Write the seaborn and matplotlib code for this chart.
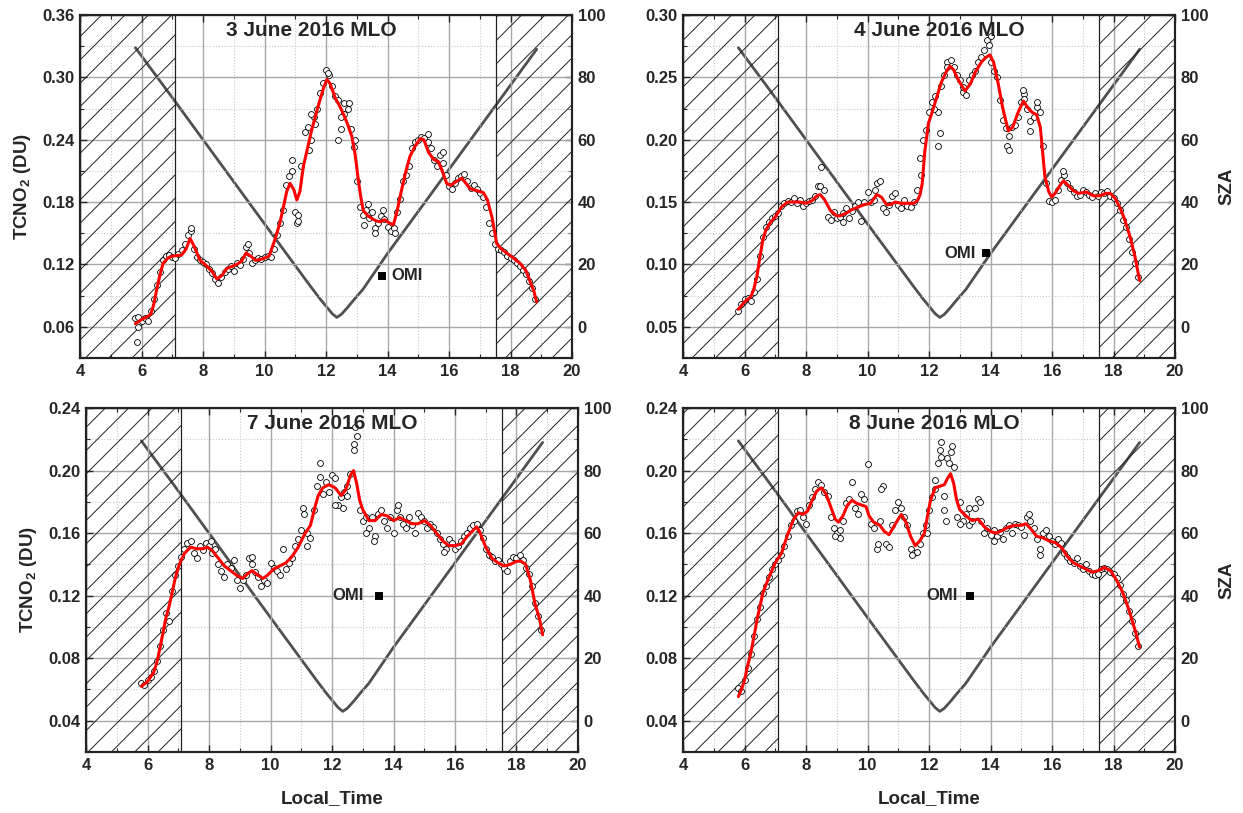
import matplotlib
matplotlib.use('Agg')
import matplotlib.pyplot as plt
import seaborn as sns
from matplotlib.ticker import MultipleLocator, FormatStrFormatter

# observation times (local hour) shared by the four days
obs_hours = [5.8, 5.9, 6.0, 6.1, 6.2, 6.3, 6.4, 6.5, 6.6, 6.7,
             6.8, 6.9, 7.0, 7.1, 7.2, 7.3, 7.4, 7.5, 7.6, 7.7,
             7.8, 7.9, 8.0, 8.1, 8.2, 8.3, 8.4, 8.5, 8.6, 8.7,
             8.8, 8.9, 9.0, 9.1, 9.2, 9.3, 9.4, 9.5, 9.6, 9.7,
             9.8, 9.9, 10.0, 10.1, 10.2, 10.3, 10.4, 10.5, 10.6, 10.7,
             10.8, 10.9, 11.0, 11.1, 11.2, 11.3, 11.4, 11.5, 11.6, 11.7,
             11.8, 11.9, 12.0, 12.1, 12.2, 12.3, 12.4, 12.5, 12.6, 12.7,
             12.8, 12.9, 13.0, 13.1, 13.2, 13.3, 13.4, 13.5, 13.6, 13.7,
             13.8, 13.9, 14.0, 14.1, 14.2, 14.3, 14.4, 14.5, 14.6, 14.7,
             14.8, 14.9, 15.0, 15.1, 15.2, 15.3, 15.4, 15.5, 15.6, 15.7,
             15.8, 15.9, 16.0, 16.1, 16.2, 16.3, 16.4, 16.5, 16.6, 16.7,
             16.8, 16.9, 17.0, 17.1, 17.2, 17.3, 17.4, 17.5, 17.6, 17.7,
             17.8, 17.9, 18.0, 18.1, 18.2, 18.3, 18.4, 18.5, 18.6, 18.7,
             18.8]

# TCNO2 observations (DU)
no2_jun3 = [0.068, 0.069, 0.066, 0.068, 0.066, 0.075, 0.087, 0.100, 0.113, 0.124,
            0.128, 0.129, 0.127, 0.126, 0.130, 0.134, 0.140, 0.148, 0.152, 0.135,
            0.127, 0.124, 0.122, 0.120, 0.116, 0.112, 0.106, 0.102, 0.108, 0.113,
            0.116, 0.118, 0.114, 0.121, 0.119, 0.125, 0.137, 0.131, 0.121, 0.124,
            0.126, 0.125, 0.127, 0.128, 0.127, 0.135, 0.148, 0.160, 0.172, 0.196,
            0.205, 0.210, 0.170, 0.168, 0.215, 0.247, 0.252, 0.240, 0.262, 0.270,
            0.285, 0.295, 0.307, 0.302, 0.292, 0.282, 0.278, 0.250, 0.275, 0.270,
            0.250, 0.233, 0.200, 0.175, 0.168, 0.172, 0.165, 0.170, 0.155, 0.160,
            0.167, 0.164, 0.156, 0.152, 0.155, 0.170, 0.183, 0.200, 0.206, 0.215,
            0.232, 0.238, 0.240, 0.243, 0.242, 0.238, 0.232, 0.220, 0.215, 0.225,
            0.218, 0.206, 0.195, 0.193, 0.198, 0.203, 0.205, 0.207, 0.200, 0.194,
            0.196, 0.193, 0.189, 0.185, 0.175, 0.160, 0.150, 0.140, 0.135, 0.134,
            0.132, 0.128, 0.126, 0.124, 0.121, 0.118, 0.115, 0.111, 0.104, 0.097,
            0.087]
no2_jun4 = [0.063, 0.068, 0.072, 0.073, 0.071, 0.078, 0.088, 0.107, 0.122, 0.130,
            0.134, 0.137, 0.139, 0.141, 0.147, 0.149, 0.151, 0.150, 0.153, 0.149,
            0.152, 0.147, 0.149, 0.151, 0.152, 0.155, 0.163, 0.178, 0.160, 0.138,
            0.136, 0.142, 0.137, 0.138, 0.141, 0.145, 0.137, 0.143, 0.147, 0.150,
            0.135, 0.150, 0.158, 0.150, 0.152, 0.165, 0.167, 0.145, 0.142, 0.148,
            0.155, 0.157, 0.148, 0.145, 0.152, 0.147, 0.146, 0.150, 0.160, 0.185,
            0.200, 0.208, 0.222, 0.230, 0.235, 0.222, 0.243, 0.252, 0.262, 0.264,
            0.258, 0.252, 0.248, 0.238, 0.236, 0.248, 0.252, 0.255, 0.262, 0.266,
            0.272, 0.280, 0.262, 0.255, 0.250, 0.232, 0.216, 0.209, 0.203, 0.210,
            0.212, 0.218, 0.230, 0.237, 0.225, 0.215, 0.218, 0.226, 0.222, 0.195,
            0.165, 0.151, 0.150, 0.152, 0.160, 0.168, 0.172, 0.165, 0.161, 0.158,
            0.155, 0.156, 0.160, 0.158, 0.156, 0.154, 0.157, 0.155, 0.158, 0.157,
            0.159, 0.155, 0.153, 0.149, 0.144, 0.136, 0.130, 0.120, 0.110, 0.101,
            0.090]
no2_jun7 = [0.064, 0.063, 0.066, 0.068, 0.072, 0.078, 0.088, 0.098, 0.109, 0.104,
            0.123, 0.133, 0.139, 0.145, 0.150, 0.154, 0.155, 0.147, 0.144, 0.152,
            0.149, 0.154, 0.152, 0.147, 0.150, 0.140, 0.136, 0.132, 0.140, 0.138,
            0.143, 0.130, 0.125, 0.130, 0.133, 0.144, 0.140, 0.135, 0.132, 0.126,
            0.130, 0.128, 0.141, 0.138, 0.136, 0.133, 0.150, 0.137, 0.141, 0.144,
            0.152, 0.156, 0.162, 0.172, 0.160, 0.157, 0.175, 0.190, 0.196, 0.185,
            0.193, 0.186, 0.197, 0.195, 0.178, 0.183, 0.186, 0.190, 0.198, 0.213,
            0.222, 0.175, 0.168, 0.170, 0.163, 0.170, 0.158, 0.172, 0.175, 0.168,
            0.163, 0.170, 0.160, 0.175, 0.170, 0.166, 0.163, 0.170, 0.165, 0.160,
            0.173, 0.170, 0.168, 0.163, 0.166, 0.164, 0.160, 0.156, 0.153, 0.150,
            0.156, 0.154, 0.150, 0.152, 0.155, 0.158, 0.160, 0.163, 0.165, 0.166,
            0.162, 0.157, 0.150, 0.146, 0.145, 0.142, 0.143, 0.140, 0.138, 0.136,
            0.142, 0.145, 0.144, 0.146, 0.143, 0.138, 0.134, 0.126, 0.115, 0.107,
            0.098]
no2_jun8 = [0.061, 0.059, 0.066, 0.074, 0.083, 0.094, 0.105, 0.113, 0.122, 0.126,
            0.132, 0.137, 0.140, 0.143, 0.146, 0.152, 0.158, 0.165, 0.168, 0.174,
            0.175, 0.170, 0.166, 0.178, 0.183, 0.188, 0.193, 0.191, 0.186, 0.184,
            0.170, 0.163, 0.160, 0.157, 0.168, 0.179, 0.182, 0.193, 0.176, 0.172,
            0.185, 0.182, 0.204, 0.166, 0.163, 0.150, 0.168, 0.190, 0.153, 0.151,
            0.165, 0.175, 0.180, 0.176, 0.170, 0.165, 0.150, 0.147, 0.148, 0.153,
            0.160, 0.165, 0.175, 0.183, 0.194, 0.205, 0.218, 0.184, 0.208, 0.212,
            0.202, 0.170, 0.180, 0.168, 0.172, 0.165, 0.168, 0.176, 0.182, 0.168,
            0.160, 0.163, 0.159, 0.162, 0.158, 0.161, 0.156, 0.163, 0.165, 0.160,
            0.166, 0.165, 0.164, 0.159, 0.170, 0.168, 0.163, 0.156, 0.150, 0.160,
            0.162, 0.158, 0.155, 0.153, 0.156, 0.154, 0.147, 0.145, 0.142, 0.141,
            0.144, 0.139, 0.137, 0.140, 0.136, 0.134, 0.133, 0.134, 0.137, 0.138,
            0.137, 0.135, 0.134, 0.131, 0.127, 0.121, 0.117, 0.110, 0.104, 0.096,
            0.088]

# scattered outliers off the main track
extra_hours_jun3 = [5.85, 5.9, 11.05, 11.1, 10.9, 11.45, 11.5, 11.65, 12.05, 12.6, 12.5,
                    12.75, 12.95, 13.25, 13.35, 13.6, 13.85, 14.25, 15.8, 15.3, 9.45, 7.6, 12.4]
extra_no2_jun3 = [0.045, 0.060, 0.160, 0.162, 0.220, 0.230, 0.265, 0.255, 0.304, 0.265, 0.262,
                  0.275, 0.240, 0.158, 0.178, 0.150, 0.172, 0.150, 0.228, 0.245, 0.140, 0.155, 0.240]
extra_hours_jun4 = [12.3, 12.35, 14.55, 14.6, 15.05, 15.1, 15.5, 14.0, 13.95, 12.6, 8.45,
                    9.2, 10.25, 12.15, 15.3, 16.35, 13.1, 11.75]
extra_no2_jun4 = [0.195, 0.205, 0.195, 0.192, 0.240, 0.233, 0.230, 0.283, 0.276, 0.258, 0.163,
                  0.134, 0.160, 0.225, 0.207, 0.175, 0.242, 0.172]
extra_hours_jun7 = [12.75, 12.7, 11.6, 12.5, 13.35, 11.2, 9.4, 12.1, 13.1, 14.15, 11.05,
                    12.35, 8.05, 15.65]
extra_no2_jun7 = [0.228, 0.217, 0.205, 0.184, 0.155, 0.152, 0.145, 0.178, 0.160, 0.178, 0.176,
                  0.176, 0.155, 0.148]
extra_hours_jun8 = [12.35, 12.4, 12.75, 12.65, 12.2, 12.5, 12.55, 13.3, 13.65, 15.25, 15.6,
                    11.45, 10.35, 10.45, 9.1, 8.95, 11.95, 13.0, 14.1]
extra_no2_jun8 = [0.213, 0.209, 0.216, 0.205, 0.188, 0.175, 0.168, 0.176, 0.180, 0.172, 0.146,
                  0.146, 0.153, 0.188, 0.162, 0.158, 0.160, 0.166, 0.155]

# smoothed fit (red curve)
fit_hours_jun3 = [5.8, 6.0, 6.2, 6.3, 6.4, 6.5, 6.6, 6.7, 6.85, 7.0, 7.3, 7.45, 7.58, 7.7, 7.9,
                  8.1, 8.3, 8.45, 8.6, 8.77, 9.1, 9.25, 9.4, 9.55, 9.7, 9.9, 10.15, 10.35, 10.5,
                  10.62, 10.72, 10.83, 10.95, 11.05, 11.15, 11.26, 11.4, 11.53, 11.66, 11.8,
                  11.92, 12.03, 12.13, 12.3, 12.45, 12.56, 12.7, 12.84, 12.95, 13.05, 13.13,
                  13.21, 13.35, 13.5, 13.62, 13.76, 13.9, 14.05, 14.19, 14.3, 14.46, 14.6,
                  14.73, 14.9, 15.06, 15.18, 15.33, 15.5, 15.65, 15.78, 15.92, 16.05, 16.2,
                  16.41, 16.55, 16.68, 16.9, 17.12, 17.25, 17.4, 17.55, 17.7, 17.87, 18.1,
                  18.31, 18.5, 18.63, 18.75, 18.85]
fit_no2_jun3 = [0.063, 0.067, 0.070, 0.072, 0.082, 0.097, 0.110, 0.121, 0.126, 0.128, 0.129,
                0.135, 0.145, 0.138, 0.124, 0.119, 0.113, 0.106, 0.109, 0.116, 0.120, 0.123,
                0.131, 0.128, 0.124, 0.125, 0.128, 0.145, 0.160, 0.176, 0.190, 0.198, 0.192,
                0.182, 0.190, 0.214, 0.232, 0.249, 0.263, 0.278, 0.290, 0.298, 0.294, 0.280,
                0.272, 0.265, 0.255, 0.243, 0.225, 0.201, 0.185, 0.172, 0.167, 0.164, 0.162,
                0.161, 0.163, 0.160, 0.158, 0.170, 0.192, 0.210, 0.224, 0.234, 0.241, 0.240,
                0.228, 0.221, 0.219, 0.210, 0.198, 0.196, 0.199, 0.203, 0.198, 0.193, 0.191,
                0.189, 0.182, 0.165, 0.140, 0.135, 0.131, 0.126, 0.121, 0.114, 0.104, 0.095,
                0.084]
fit_hours_jun4 = [5.8, 6.0, 6.2, 6.3, 6.4, 6.5, 6.6, 6.7, 6.85, 7.0, 7.2, 7.4, 7.6, 7.8, 8.0,
                  8.2, 8.35, 8.46, 8.6, 8.8, 9.0, 9.11, 9.3, 9.5, 9.7, 9.9, 10.1, 10.3, 10.45,
                  10.62, 10.75, 10.9, 11.1, 11.3, 11.5, 11.62, 11.71, 11.78, 11.86, 11.98, 12.1,
                  12.25, 12.4, 12.55, 12.68, 12.8, 12.95, 13.17, 13.35, 13.5, 13.7, 13.85,
                  13.98, 14.1, 14.25, 14.4, 14.58, 14.72, 14.9, 15.07, 15.2, 15.35, 15.5,
                  15.62, 15.77, 15.9, 15.99, 16.1, 16.25, 16.37, 16.5, 16.7, 16.86, 17.13,
                  17.35, 17.56, 17.75, 17.89, 18.05, 18.2, 18.35, 18.54, 18.7, 18.85]
fit_no2_jun4 = [0.064, 0.070, 0.074, 0.080, 0.090, 0.106, 0.120, 0.128, 0.134, 0.138, 0.146,
                0.150, 0.150, 0.150, 0.149, 0.151, 0.155, 0.156, 0.152, 0.143, 0.139, 0.139,
                0.141, 0.144, 0.146, 0.148, 0.149, 0.156, 0.154, 0.148, 0.148, 0.150, 0.149,
                0.149, 0.149, 0.151, 0.156, 0.165, 0.190, 0.213, 0.222, 0.234, 0.246, 0.254,
                0.259, 0.256, 0.248, 0.239, 0.245, 0.254, 0.262, 0.266, 0.268, 0.262, 0.245,
                0.225, 0.207, 0.210, 0.222, 0.231, 0.226, 0.222, 0.220, 0.210, 0.170, 0.158,
                0.154, 0.157, 0.163, 0.167, 0.164, 0.159, 0.157, 0.158, 0.155, 0.155, 0.157,
                0.157, 0.153, 0.146, 0.137, 0.122, 0.106, 0.087]
fit_hours_jun7 = [5.8, 6.0, 6.2, 6.3, 6.4, 6.5, 6.6, 6.7, 6.8, 6.9, 7.0, 7.1, 7.2, 7.4, 7.6,
                  7.8, 7.95, 8.1, 8.3, 8.5, 8.7, 8.9, 9.1, 9.25, 9.4, 9.6, 9.75, 9.9, 10.1,
                  10.3, 10.5, 10.7, 10.9, 11.1, 11.3, 11.45, 11.55, 11.7, 11.9, 12.1, 12.3,
                  12.45, 12.6, 12.7, 12.8, 12.9, 13.0, 13.2, 13.4, 13.6, 13.8, 14.0, 14.2,
                  14.4, 14.6, 14.8, 15.0, 15.2, 15.4, 15.6, 15.8, 16.0, 16.2, 16.4, 16.6,
                  16.7, 16.8, 17.0, 17.2, 17.4, 17.6, 17.8, 18.0, 18.15, 18.3, 18.45, 18.6,
                  18.75, 18.85]
fit_no2_jun7 = [0.062, 0.065, 0.071, 0.077, 0.086, 0.096, 0.106, 0.113, 0.122, 0.131, 0.138,
                0.143, 0.147, 0.151, 0.150, 0.150, 0.151, 0.149, 0.144, 0.139, 0.136, 0.133,
                0.131, 0.134, 0.136, 0.133, 0.131, 0.133, 0.137, 0.139, 0.141, 0.145, 0.151,
                0.159, 0.165, 0.177, 0.184, 0.189, 0.191, 0.189, 0.184, 0.188, 0.197, 0.200,
                0.192, 0.181, 0.175, 0.168, 0.168, 0.172, 0.171, 0.168, 0.170, 0.168, 0.166,
                0.166, 0.168, 0.165, 0.160, 0.155, 0.152, 0.152, 0.153, 0.158, 0.162, 0.164,
                0.161, 0.151, 0.144, 0.141, 0.139, 0.140, 0.142, 0.142, 0.140, 0.130, 0.115,
                0.105, 0.095]
fit_hours_jun8 = [5.8, 5.9, 6.0, 6.1, 6.2, 6.3, 6.4, 6.5, 6.6, 6.8, 7.0, 7.2, 7.4, 7.6, 7.75,
                  7.9, 8.05, 8.2, 8.35, 8.5, 8.65, 8.8, 8.95, 9.05, 9.2, 9.35, 9.5, 9.65, 9.8,
                  9.95, 10.05, 10.2, 10.4, 10.55, 10.7, 10.85, 11.0, 11.1, 11.25, 11.4, 11.55,
                  11.7, 11.85, 11.95, 12.05, 12.2, 12.35, 12.5, 12.6, 12.7, 12.8, 12.9, 13.0,
                  13.2, 13.4, 13.6, 13.8, 14.0, 14.2, 14.4, 14.6, 14.8, 15.0, 15.15, 15.3,
                  15.5, 15.7, 15.9, 16.1, 16.3, 16.5, 16.7, 16.9, 17.1, 17.3, 17.5, 17.7,
                  17.9, 18.1, 18.3, 18.5, 18.7, 18.85]
fit_no2_jun8 = [0.0555, 0.060, 0.066, 0.075, 0.083, 0.093, 0.104, 0.113, 0.122, 0.132, 0.141,
                0.147, 0.159, 0.169, 0.173, 0.172, 0.174, 0.181, 0.187, 0.189, 0.185, 0.177,
                0.169, 0.167, 0.171, 0.178, 0.181, 0.179, 0.178, 0.177, 0.171, 0.167, 0.165,
                0.161, 0.159, 0.164, 0.169, 0.172, 0.167, 0.158, 0.152, 0.155, 0.160, 0.171,
                0.181, 0.189, 0.190, 0.191, 0.195, 0.198, 0.192, 0.181, 0.175, 0.171, 0.168,
                0.169, 0.164, 0.161, 0.160, 0.162, 0.164, 0.165, 0.165, 0.166, 0.163, 0.158,
                0.157, 0.155, 0.154, 0.151, 0.145, 0.141, 0.139, 0.137, 0.135, 0.136, 0.138,
                0.136, 0.130, 0.122, 0.111, 0.098, 0.087]

# solar zenith angle (deg), same for all days
sza_hours = [5.8, 7.0, 8.0, 9.0, 10.0, 11.0, 11.5, 11.8, 12.0, 12.2, 12.35, 12.5, 12.7,
             12.9, 13.2, 14.0, 15.0, 16.0, 17.0, 18.0, 18.85]
sza_deg = [89.5, 73.5, 60.0, 46.5, 33.0, 19.6, 12.9, 9.0, 6.6, 4.2, 3.0, 4.0, 6.2,
           8.6, 12.0, 23.5, 37.0, 50.5, 64.0, 77.5, 89.0]

# OMI overpass value per day (hour, DU)
omi_hours = [13.81, 13.85, 13.53, 13.33]
omi_no2 = [0.109, 0.109, 0.120, 0.120]

titles = ['3 June 2016 MLO', '4 June 2016 MLO', '7 June 2016 MLO', '8 June 2016 MLO']
dark_morning = (4, 7.08)
dark_evening = (17.52, 20)

# render at a higher dpi so the hatch spacing matches; S converts "100-dpi points"
DPI = 140
S = 100 / DPI

sns.set_style('ticks')
plt.rcParams['font.family'] = ['Liberation Sans', 'DejaVu Sans']
plt.rcParams['font.weight'] = 'bold'
plt.rcParams['mathtext.fontset'] = 'custom'
plt.rcParams['mathtext.rm'] = 'Liberation Sans:bold'
plt.rcParams['mathtext.it'] = 'Liberation Sans:bold'
plt.rcParams['mathtext.bf'] = 'Liberation Sans:bold'
plt.rcParams['hatch.linewidth'] = 0.7 * S

panels = [
    dict(obs=no2_jun3, ex_t=extra_hours_jun3, ex_v=extra_no2_jun3,
         fit_t=fit_hours_jun3, fit_v=fit_no2_jun3, ylim=(0.03, 0.36), step=0.06,
         rect=[0.0644, 0.5597, 0.3958, 0.4219], title_x=0.47, omi_dx=7, ylab=True, xlab=False),
    dict(obs=no2_jun4, ex_t=extra_hours_jun4, ex_v=extra_no2_jun4,
         fit_t=fit_hours_jun4, fit_v=fit_no2_jun4, ylim=(0.025, 0.30), step=0.05,
         rect=[0.5495, 0.5597, 0.3958, 0.4219], title_x=0.52, omi_dx=-7, ylab=False, xlab=False),
    dict(obs=no2_jun7, ex_t=extra_hours_jun7, ex_v=extra_no2_jun7,
         fit_t=fit_hours_jun7, fit_v=fit_no2_jun7, ylim=(0.02, 0.24), step=0.04,
         rect=[0.0692, 0.0750, 0.3958, 0.4231], title_x=0.50, omi_dx=-11, ylab=True, xlab=True),
    dict(obs=no2_jun8, ex_t=extra_hours_jun8, ex_v=extra_no2_jun8,
         fit_t=fit_hours_jun8, fit_v=fit_no2_jun8, ylim=(0.02, 0.24), step=0.04,
         rect=[0.5495, 0.0750, 0.3958, 0.4231], title_x=0.51, omi_dx=-9, ylab=False, xlab=True),
]

fig = plt.figure(figsize=(1243 / DPI, 813 / DPI), dpi=DPI)

for i, p in enumerate(panels):
    ax = fig.add_axes(p['rect'])
    ax2 = ax.twinx()
    # keep the data above the SZA curve
    ax.set_zorder(ax2.get_zorder() + 1)
    ax.patch.set_visible(False)

    # night / low-sun shading
    for lo, hi in (dark_morning, dark_evening):
        ax.axvspan(lo, hi, facecolor='none', edgecolor='#222222', hatch='//',
                   linewidth=0.9 * S, zorder=0.8)

    sns.lineplot(x=sza_hours, y=sza_deg, ax=ax2, color='#505050', linewidth=2 * S,
                 sort=False, estimator=None)

    sns.scatterplot(x=obs_hours, y=p['obs'], ax=ax, s=18 * S * S, color='white',
                    edgecolor='black', linewidth=0.6 * S, zorder=2)
    sns.scatterplot(x=p['ex_t'], y=p['ex_v'], ax=ax, s=18 * S * S, color='white',
                    edgecolor='black', linewidth=0.6 * S, zorder=2)
    sns.lineplot(x=p['fit_t'], y=p['fit_v'], ax=ax, color='#ff0000', linewidth=2.2 * S,
                 sort=False, estimator=None, zorder=3)

    # OMI overpass
    ax.plot(omi_hours[i], omi_no2[i], marker='s', color='black', markersize=4.5 * S, zorder=4)
    ax.annotate('OMI', (omi_hours[i], omi_no2[i]), xytext=(p['omi_dx'] * S, 0),
                textcoords='offset points', va='center',
                ha='left' if p['omi_dx'] > 0 else 'right', fontsize=12 * S, fontweight='bold')

    ax.text(p['title_x'], 0.955, titles[i], transform=ax.transAxes, ha='center',
            va='center', fontsize=15 * S, fontweight='bold', zorder=5)

    ax.set_xlim(4, 20)
    ax.set_ylim(*p['ylim'])
    ax2.set_ylim(-10, 100)
    ax.xaxis.set_major_locator(MultipleLocator(2))
    ax.xaxis.set_minor_locator(MultipleLocator(1))
    ax.yaxis.set_major_locator(MultipleLocator(p['step']))
    ax.yaxis.set_minor_locator(MultipleLocator(p['step'] / 2))
    ax.yaxis.set_major_formatter(FormatStrFormatter('%.2f'))
    ax2.set_yticks([0, 20, 40, 60, 80, 100])
    ax2.yaxis.set_minor_locator(MultipleLocator(10))

    ax.grid(which='major', color='#a8a8a8', linewidth=1.0 * S)
    ax.grid(which='minor', color='#c8c8c8', linewidth=0.8 * S, linestyle=':')
    ax2.grid(False)

    ax.tick_params(which='both', direction='in', top=True, labelsize=12 * S, pad=4 * S)
    ax.tick_params(which='major', length=5 * S, width=1 * S)
    ax.tick_params(which='minor', length=3 * S, width=0.8 * S)
    ax2.tick_params(which='both', direction='in', labelsize=12 * S, pad=4 * S)
    ax2.tick_params(which='major', length=5 * S, width=1 * S)
    ax2.tick_params(which='minor', length=3 * S, width=0.8 * S)
    for lab in ax.get_xticklabels() + ax.get_yticklabels() + ax2.get_yticklabels():
        lab.set_fontweight('bold')

    for sp in list(ax.spines.values()) + list(ax2.spines.values()):
        sp.set_linewidth(1.5 * S)
        sp.set_color('#222222')

    if p['ylab']:
        ax.set_ylabel('TCNO$_2$ (DU)', fontsize=13.5 * S, fontweight='bold')
        ax.yaxis.set_label_coords(-0.095, 0.5)
    else:
        ax.set_ylabel('')
    if p['xlab']:
        ax.set_xlabel('Local_Time', fontsize=13.5 * S, fontweight='bold')
        ax.xaxis.set_label_coords(0.5, -0.11)
    else:
        ax.set_xlabel('')
    if not p['ylab']:
        ax2.set_ylabel('SZA', fontsize=13.5 * S, fontweight='bold')
        ax2.yaxis.set_label_coords(1.088, 0.5)
    else:
        ax2.set_ylabel('')

fig.savefig('out.png', dpi=DPI, facecolor='white')
